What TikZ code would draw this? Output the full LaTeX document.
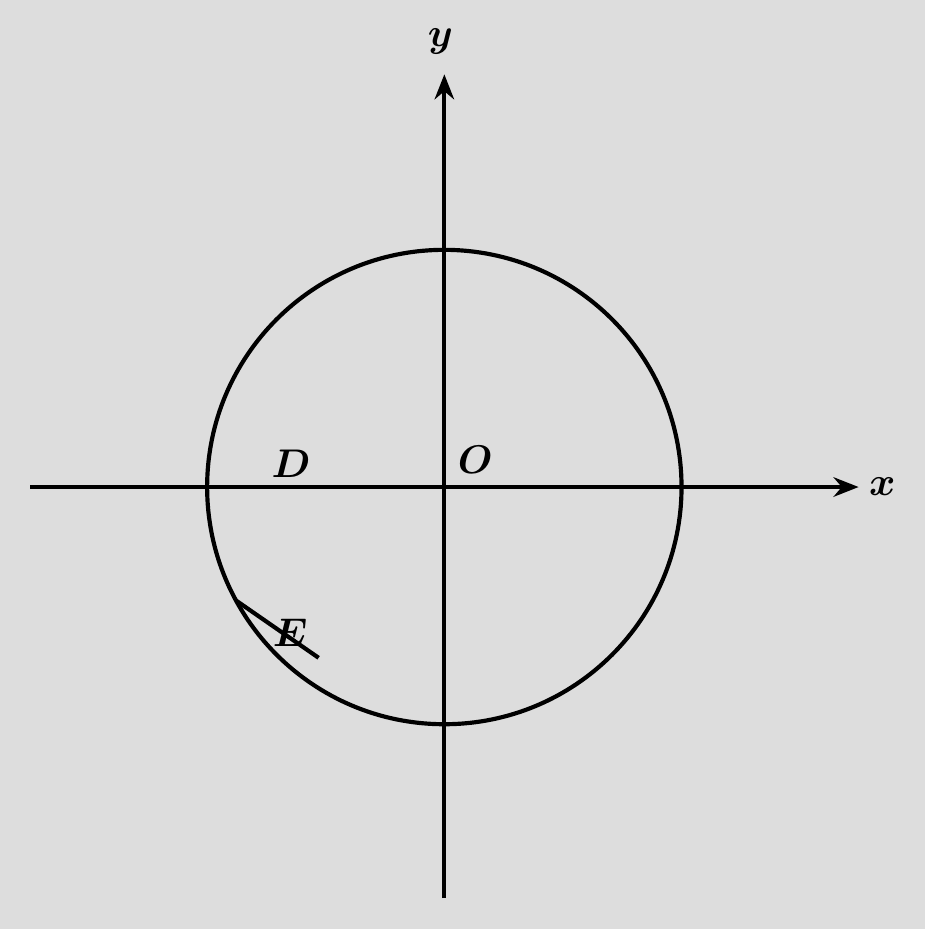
\documentclass[tikz,border=0pt]{standalone}
\definecolor{paper}{RGB}{221,221,221}
\usepackage{tikz}
\usetikzlibrary{calc, positioning, arrows.meta}
\usepackage{amsmath,amssymb,bm}

\begin{document}
\begin{tikzpicture}[
  axis/.style={-{Stealth[length=9pt,width=7pt]}, line width=1.5pt},
  curve/.style={line width=1.5pt},
  lbl/.style={font=\Large, inner sep=1pt},
]
\fill[paper] (-5.62,-5.59) rectangle (6.08,6.16);
\useasboundingbox (-5.62,-5.59) rectangle (6.08,6.16);
% axes
\coordinate (xl) at (-5.24,0);
\coordinate (xr) at (5.24,0);
\coordinate (yb) at (0,-5.20);
\coordinate (yt) at (0,5.22);
\draw[axis] (xl) -- (xr);
\draw[axis] (yb) -- (yt);
\node[lbl] (xlab) at (5.54,0) {$\bm{x}$};
\node[lbl] (ylab) at (-0.05,5.63) {$\bm{y}$};
% circle and segment at E
\coordinate (O) at (0,0);
\draw[curve] (O) circle (3);
\coordinate (E0) at (208.6:3);
\coordinate (E1) at (-1.59,-2.16);
\draw[curve] (E0) -- (E1);
\node[lbl] (olab) at (0.39,0.34) {$\bm{O}$};
\node[lbl] (dlab) at (-1.94,0.30) {$\bm{D}$};
\node[lbl] (elab) at (-1.95,-1.84) {$\bm{E}$};
\end{tikzpicture}
\end{document}
